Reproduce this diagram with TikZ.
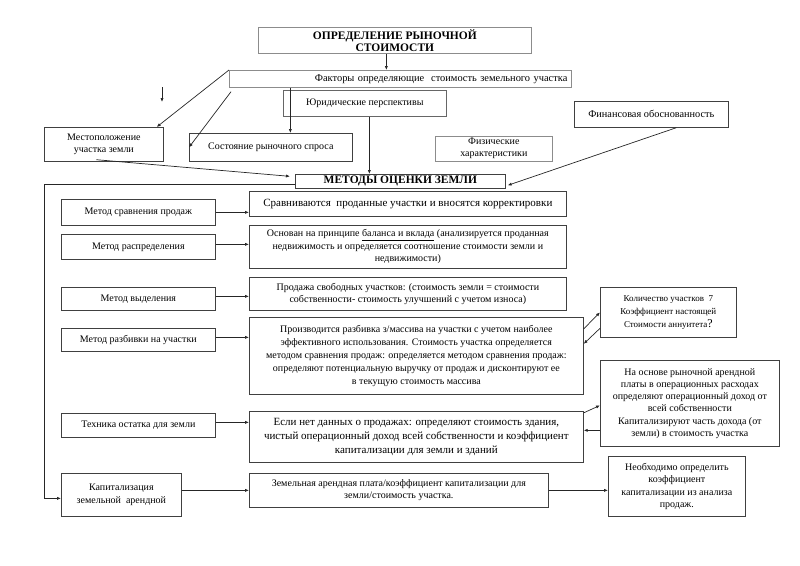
\documentclass[tikz,border=0pt]{standalone}
\usepackage{fontspec}
\setmainfont{Liberation Serif}
\usetikzlibrary{arrows.meta, calc}

\begin{document}
\begin{tikzpicture}[x=1pt, y=-1pt,
            font=\fontsize{10}{12.5}\selectfont,
            >={Latex[length=4pt, width=3.2pt]},
            box/.style={draw=black!75, line width=0.7pt, align=center, anchor=north west, inner sep=2pt},
            soft box/.style={box, draw=black!45},
            head/.style={box, font=\fontsize{11.5}{12}\selectfont\bfseries},
            link/.style={->, draw=black!85, line width=0.7pt}]

            % Page frame
            \useasboundingbox (0,0) rectangle (800,565);

            % Title and factors
            \node[head, draw=black!45, minimum width=273pt, minimum height=26pt] (title) at (258,27)
                {ОПРЕДЕЛЕНИЕ РЫНОЧНОЙ\\СТОИМОСТИ};
            \node[soft box, minimum width=342pt, minimum height=17pt, text width=334pt, align=right, inner xsep=4pt,
                font=\fontsize{10.4}{12.5}\selectfont] (factors) at (229,70)
                {Факторы определяющие\ \ стоимость земельного участка};
            \node[box, draw=black!60, minimum width=163pt, minimum height=26pt] (legal) at (283,90) {Юридические перспективы};
            \node[box, minimum width=119pt, minimum height=34pt] (loc) at (44,127) {Местоположение\\участка земли};
            \node[box, minimum width=163pt, minimum height=28pt] (demand) at (189,133) {Состояние рыночного спроса};
            \node[soft box, minimum width=117pt, minimum height=24pt, font=\fontsize{10}{12}\selectfont] (phys) at (435,136)
                {Физические\\характеристики};
            \node[box, minimum width=154pt, minimum height=26pt, font=\fontsize{10.3}{12.5}\selectfont] (finance) at (574,101)
                {Финансовая обоснованность};
            \node[head, minimum width=210pt, minimum height=14pt, inner sep=0.5pt] (methods) at (295,174) {МЕТОДЫ ОЦЕНКИ ЗЕМЛИ};

            % Methods (left column)
            \node[box, minimum width=154pt, minimum height=26pt] (m1) at (61,199) {Метод сравнения продаж};
            \node[box, minimum width=154pt, minimum height=25pt] (m2) at (61,234) {Метод распределения};
            \node[box, minimum width=154pt, minimum height=23pt] (m3) at (61,287) {Метод выделения};
            \node[box, minimum width=154pt, minimum height=23pt] (m4) at (61,328) {Метод разбивки на участки};
            \node[box, minimum width=154pt, minimum height=24pt] (m5) at (61,413) {Техника остатка для земли};
            \node[box, minimum width=120pt, minimum height=43pt] (cap) at (61,473) {Капитализация\\земельной\ \ арендной};

            % Descriptions (right column)
            \node[box, minimum width=317pt, minimum height=25pt, font=\fontsize{11}{13}\selectfont] (d1) at (249,191)
                {Сравниваются\ \ проданные участки и вносятся корректировки};
            \node[box, minimum width=317pt, minimum height=43pt] (d2) at (249,225)
                {Основан на принципе \underline{баланса и вклада} (анализируется проданная\\недвижимость и определяется соотношение стоимости земли и\\недвижимости)};
            \node[box, minimum width=317pt, minimum height=33pt] (d3) at (249,277)
                {Продажа свободных участков: (стоимость земли = стоимости\\собственности- стоимость улучшений с учетом износа)};
            \node[box, minimum width=334pt, minimum height=77pt, font=\fontsize{10}{13}\selectfont] (d4) at (249,317)
                {Производится разбивка з/массива на участки с учетом наиболее\\эффективного использования. Стоимость участка определяется\\методом сравнения продаж: определяется методом сравнения продаж:\\определяют потенциальную выручку от продаж и дисконтируют ее\\в текущую стоимость массива};
            \node[box, minimum width=334pt, minimum height=51pt, font=\fontsize{11}{14}\selectfont] (d5) at (249,411)
                {Если нет данных о продажах: определяют стоимость здания,\\чистый операционный доход всей собственности и коэффициент\\капитализации для земли и зданий};
            \node[box, minimum width=299pt, minimum height=34pt] (d6) at (249,473)
                {Земельная арендная плата/коэффициент капитализации для\\земли/стоимость участка.};

            % Notes (far right)
            \node[box, minimum width=136pt, minimum height=50pt, font=\fontsize{9}{13}\selectfont] (count) at (600,287)
                {Количество участков\ \ 7\\Коэффициент настоящей\\Стоимости аннуитета{\large ?}};
            \node[box, minimum width=179pt, minimum height=86pt, font=\fontsize{10}{12.2}\selectfont] (rent) at (600,360)
                {На основе рыночной арендной\\платы в операционных расходах\\определяют операционный доход от\\всей собственности\\Капитализируют часть дохода (от\\земли) в стоимость участка};
            \node[box, minimum width=137pt, minimum height=60pt] (need) at (608,456)
                {Необходимо определить\\коэффициент\\капитализации из анализа\\продаж.};

            % Top connectors
            \draw[link] ([xshift=-8.5pt]title.south) -- ([xshift=-8.5pt]title.south |- factors.north);
            \coordinate (stray top) at (162,87);
            \coordinate (stray end) at (162,102);
            \draw[link] (stray top) -- (stray end);
            \draw[link] (factors.north west) -- ([xshift=-7pt]loc.north east);
            \draw[link] ([xshift=2pt, yshift=-4pt]factors.south west) -- (demand.west);
            \draw[link] ([xshift=19.5pt]demand.north |- factors.south) -- ([xshift=19.5pt]demand.north);
            \draw[link] ([xshift=4.5pt]legal.south) -- ([xshift=4.5pt]legal.south |- methods.north);
            \draw[link] ([xshift=-7.5pt, yshift=2pt]loc.south) -- ([xshift=-5pt, yshift=5pt]methods.west);
            \draw[link] ([xshift=25pt]finance.south) -- ([xshift=2pt, yshift=-4pt]methods.east);

            % Bracket to the last method
            \draw[link] ([yshift=-3pt]methods.west) -| ([yshift=-3.5pt]cap.west -| loc.west) -- ([yshift=-3.5pt]cap.west);

            % Method -> description
            \draw[link] (m1.east) -- (m1.east -| d1.west);
            \draw[link] ([yshift=2.5pt]m2.east) -- ([yshift=2.5pt]m2.east -| d2.west);
            \draw[link] ([yshift=2.5pt]m3.east) -- ([yshift=2.5pt]m3.east -| d3.west);
            \draw[link] ([yshift=2.5pt]m4.east) -- ([yshift=2.5pt]m4.east -| d4.west);
            \draw[link] ([yshift=3pt]m5.east) -- ([yshift=3pt]m5.east -| d5.west);
            \draw[link] ([yshift=4.5pt]cap.east) -- ([yshift=4.5pt]cap.east -| d6.west);

            % Side notes
            \draw[link] ([yshift=27pt]d4.east) -- (count.west);
            \draw[link] ([yshift=-16pt]count.west) -- ([yshift=12pt]d4.east);
            \draw[link] ([yshift=24pt]d5.east) -- ([yshift=-2pt]rent.west);
            \draw[link] ([yshift=-27pt]rent.west) -- ([yshift=-27pt]rent.west -| d5.east);
            \draw[link] ([yshift=4.5pt]cap.east -| d6.east) -- ([yshift=4.5pt]cap.east -| need.west);
        \end{tikzpicture}
\end{document}
